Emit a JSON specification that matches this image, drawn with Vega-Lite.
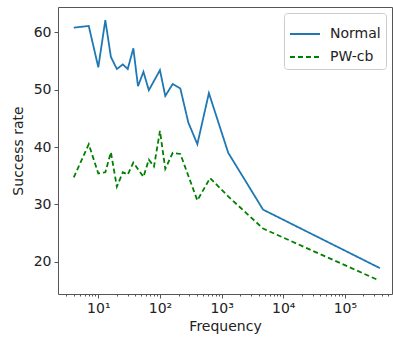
{
  "$schema": "https://vega.github.io/schema/vega-lite/v6.json",
  "width": 334,
  "height": 287,
  "autosize": {"type": "none"},
  "padding": {"left": 58, "top": 7, "right": 1, "bottom": 45},
  "config": {
    "font": "DejaVu Sans",
    "view": {"stroke": "#555", "strokeWidth": 1},
    "axis": {"domain": false, "grid": false, "tickColor": "#555", "labelColor": "#222", "titleColor": "#222", "labelFontSize": 14, "titleFontSize": 14, "titleFontWeight": "normal", "labelFont": "DejaVu Sans", "titleFont": "DejaVu Sans"}
  },
  "data": {"values": [
    {"freq": 4, "rate": 60.8, "series": "Normal"},
    {"freq": 7, "rate": 61.1, "series": "Normal"},
    {"freq": 10, "rate": 53.9, "series": "Normal"},
    {"freq": 13, "rate": 62.1, "series": "Normal"},
    {"freq": 16, "rate": 55.7, "series": "Normal"},
    {"freq": 20, "rate": 53.6, "series": "Normal"},
    {"freq": 25, "rate": 54.4, "series": "Normal"},
    {"freq": 30, "rate": 53.6, "series": "Normal"},
    {"freq": 37, "rate": 57.2, "series": "Normal"},
    {"freq": 44, "rate": 50.6, "series": "Normal"},
    {"freq": 54, "rate": 53.1, "series": "Normal"},
    {"freq": 66, "rate": 49.9, "series": "Normal"},
    {"freq": 100, "rate": 53.4, "series": "Normal"},
    {"freq": 122, "rate": 48.9, "series": "Normal"},
    {"freq": 161, "rate": 51.0, "series": "Normal"},
    {"freq": 214, "rate": 50.2, "series": "Normal"},
    {"freq": 288, "rate": 44.3, "series": "Normal"},
    {"freq": 404, "rate": 40.5, "series": "Normal"},
    {"freq": 622, "rate": 49.4, "series": "Normal"},
    {"freq": 1280, "rate": 39.0, "series": "Normal"},
    {"freq": 4700, "rate": 29.1, "series": "Normal"},
    {"freq": 370000, "rate": 18.9, "series": "Normal"},
    {"freq": 4, "rate": 34.7, "series": "PW-cb"},
    {"freq": 7, "rate": 40.5, "series": "PW-cb"},
    {"freq": 10, "rate": 35.4, "series": "PW-cb"},
    {"freq": 13, "rate": 35.6, "series": "PW-cb"},
    {"freq": 16, "rate": 39.1, "series": "PW-cb"},
    {"freq": 20, "rate": 33.1, "series": "PW-cb"},
    {"freq": 25, "rate": 35.6, "series": "PW-cb"},
    {"freq": 30, "rate": 35.2, "series": "PW-cb"},
    {"freq": 37, "rate": 37.3, "series": "PW-cb"},
    {"freq": 54, "rate": 34.8, "series": "PW-cb"},
    {"freq": 66, "rate": 37.8, "series": "PW-cb"},
    {"freq": 80, "rate": 36.6, "series": "PW-cb"},
    {"freq": 100, "rate": 42.8, "series": "PW-cb"},
    {"freq": 122, "rate": 36.2, "series": "PW-cb"},
    {"freq": 161, "rate": 39.0, "series": "PW-cb"},
    {"freq": 214, "rate": 38.8, "series": "PW-cb"},
    {"freq": 404, "rate": 30.7, "series": "PW-cb"},
    {"freq": 650, "rate": 34.6, "series": "PW-cb"},
    {"freq": 1280, "rate": 31.4, "series": "PW-cb"},
    {"freq": 4700, "rate": 25.8, "series": "PW-cb"},
    {"freq": 350000, "rate": 16.8, "series": "PW-cb"}
  ]},
  "mark": {"type": "line", "strokeWidth": 1.8, "clip": true},
  "encoding": {
    "x": {
      "field": "freq", "type": "quantitative", "title": "Frequency",
      "scale": {"type": "log", "domain": [2.22, 580000], "nice": false},
      "axis": {
        "values": [3,4,5,6,7,8,9,10,20,30,40,50,60,70,80,90,100,200,300,400,500,600,700,800,900,1000,2000,3000,4000,5000,6000,7000,8000,9000,10000,20000,30000,40000,50000,60000,70000,80000,90000,100000,200000,300000,400000,500000],
        "labelExpr": "abs(log(datum.value)/LN10 - round(log(datum.value)/LN10)) < 0.001 ? '10' + ['⁰','¹','²','³','⁴','⁵','⁶'][round(log(datum.value)/LN10)] : ''",
        "tickSize": {"condition": {"test": "abs(log(datum.value)/LN10 - round(log(datum.value)/LN10)) < 0.001", "value": 4}, "value": 2},
        "labelPadding": 3,
        "titlePadding": 4,
        "labelFlush": false,
        "labelOverlap": false
      }
    },
    "y": {
      "field": "rate", "type": "quantitative", "title": "Success rate",
      "scale": {"domain": [14.4, 64.4], "nice": false, "zero": false},
      "axis": {"values": [20, 30, 40, 50, 60], "tickSize": 4, "labelPadding": 3, "titlePadding": 8}
    },
    "color": {
      "field": "series", "type": "nominal",
      "scale": {"domain": ["Normal", "PW-cb"], "range": ["#1f77b4", "#008000"]},
      "legend": {"title": null, "orient": "top-right", "offset": 6, "symbolType": "stroke", "symbolSize": 900, "symbolStrokeWidth": 1.8, "labelFontSize": 14, "labelColor": "#222", "fillColor": "white", "strokeColor": "#ccc", "cornerRadius": 3, "padding": 5, "rowPadding": -9, "labelOffset": 9}
    },
    "strokeDash": {
      "field": "series", "type": "nominal",
      "scale": {"domain": ["Normal", "PW-cb"], "range": [[1, 0], [5, 3]]},
      "legend": {"title": null, "orient": "top-right", "offset": 6, "symbolType": "stroke", "symbolSize": 900, "symbolStrokeWidth": 1.8, "labelFontSize": 14, "labelColor": "#222", "fillColor": "white", "strokeColor": "#ccc", "cornerRadius": 3, "padding": 5, "rowPadding": -9, "labelOffset": 9}
    }
  }
}
